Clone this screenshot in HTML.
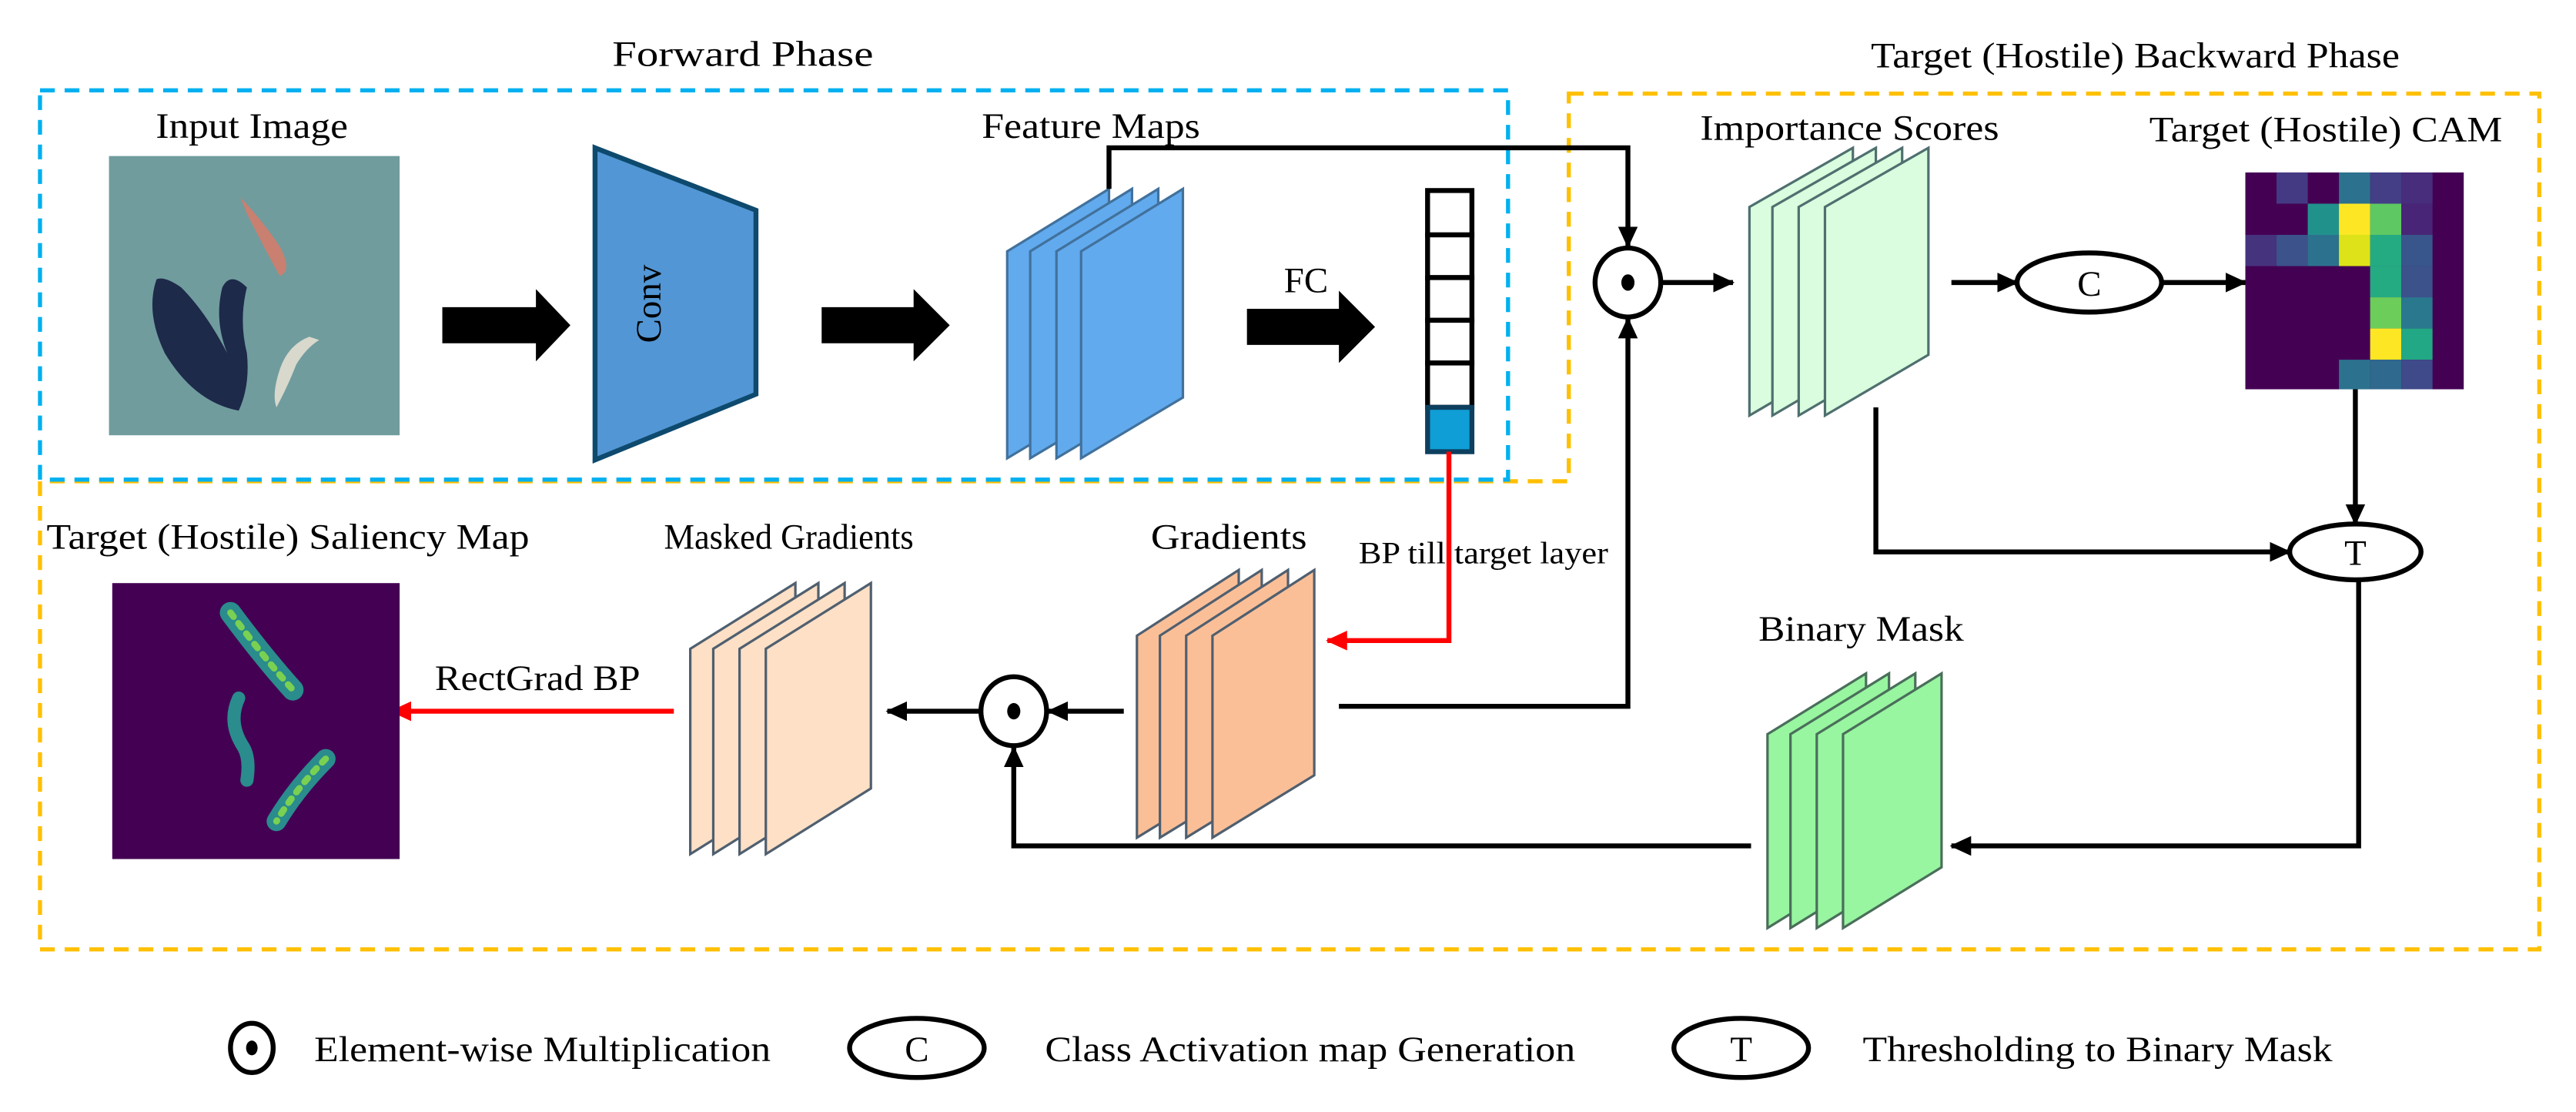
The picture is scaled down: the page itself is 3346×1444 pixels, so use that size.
<!DOCTYPE html>
<html><head><meta charset="utf-8"><style>html,body{margin:0;padding:0;background:#fff}svg{display:block}svg text{font-family:"Liberation Serif","Times New Roman",serif}</style></head>
<body>
<svg width="3346" height="1444" viewBox="0 0 1568 677" xmlns="http://www.w3.org/2000/svg" style="font-family:'Liberation Serif',serif" font-size="22">
<defs>
<marker id="ab" markerWidth="14" markerHeight="14" refX="12" refY="7" orient="auto" markerUnits="userSpaceOnUse"><path d="M0,1 L13,7 L0,13 Z" fill="#000"/></marker>
<marker id="ar" markerWidth="14" markerHeight="14" refX="12" refY="7" orient="auto" markerUnits="userSpaceOnUse"><path d="M0,1 L13,7 L0,13 Z" fill="#f00"/></marker>
</defs>
<rect width="1568" height="677" fill="#fff"/>
<text x="452" y="40" text-anchor="middle" textLength="159" lengthAdjust="spacingAndGlyphs">Forward Phase</text>
<text x="1300" y="41" text-anchor="middle" textLength="322" lengthAdjust="spacingAndGlyphs">Target (Hostile) Backward Phase</text>
<path d="M955,57 H1546 V578 H24 V293 H955 Z" fill="none" stroke="#ffc000" stroke-width="2.5" stroke-dasharray="9,6"/>
<rect x="24" y="55" width="894" height="237" fill="none" stroke="#00b0f0" stroke-width="2.5" stroke-dasharray="9,6"/>
<text x="153" y="84" text-anchor="middle" textLength="117" lengthAdjust="spacingAndGlyphs">Input Image</text>
<rect x="66" y="95" width="177" height="170" fill="#709c9e"/>
<path d="M146,120 Q160,135 170,150 Q178,165 170,168 Q160,150 150,130 Z" fill="#c98070"/>
<path d="M95,170 Q88,190 100,215 Q118,245 145,250 Q152,235 150,215 Q145,195 150,175 Q140,165 135,175 Q130,195 138,215 Q125,190 110,175 Q100,168 95,170 Z" fill="#1e2a4a"/>
<path d="M188,205 Q175,210 170,225 Q165,240 168,248 Q175,235 180,222 Q186,212 194,207 Z" fill="#d8d8cc"/>
<polygon points="362,90 460,128 460,240 362,280" fill="#5296d5" stroke="#0e4a6e" stroke-width="3"/>
<text x="0" y="0" transform="translate(402,185) rotate(-90)" text-anchor="middle">Conv</text>
<g fill="#000">
<polygon points="269,187 326,187 326,176 347,198 326,220 326,209 269,209"/>
<polygon points="500,187 556,187 556,176 578,198 556,220 556,209 500,209"/>
<polygon points="759,188 815,188 815,177 837,199 815,221 815,210 759,210"/>
</g>
<text x="795" y="178" text-anchor="middle">FC</text>
<text x="664" y="84" text-anchor="middle" textLength="133" lengthAdjust="spacingAndGlyphs">Feature Maps</text>
<g fill="#62aaee" stroke="#41719c" stroke-width="1.5">
<polygon points="613,279 613,153 675,115 675,242"/>
<polygon points="627,279 627,153 689,115 689,242"/>
<polygon points="643,279 643,153 705,115 705,242"/>
<polygon points="658,279 658,153 720,115 720,242"/>
</g>
<g stroke="#000" stroke-width="3" fill="#fff">
<rect x="869" y="116" width="27" height="27"/><rect x="869" y="143" width="27" height="26"/><rect x="869" y="169" width="27" height="26"/><rect x="869" y="195" width="27" height="26"/><rect x="869" y="221" width="27" height="27"/>
</g>
<rect x="869" y="248" width="27" height="27" fill="#0f9ed5" stroke="#0d3f5f" stroke-width="3"/>
<polyline points="675,115 675,90 991,90 991,150" fill="none" stroke="#000" stroke-width="3" marker-end="url(#ab)"/>
<ellipse cx="991" cy="172" rx="20" ry="21" fill="#fff" stroke="#000" stroke-width="3"/>
<ellipse cx="991" cy="172" rx="4" ry="5"/>
<line x1="1012" y1="172" x2="1055" y2="172" stroke="#000" stroke-width="3" marker-end="url(#ab)"/>
<text x="1126" y="85" text-anchor="middle" textLength="182" lengthAdjust="spacingAndGlyphs">Importance Scores</text>
<g fill="#d9fdde" stroke="#4f6f6f" stroke-width="1.5">
<polygon points="1065,253 1065,126 1128,90 1128,216"/>
<polygon points="1079,253 1079,126 1142,90 1142,216"/>
<polygon points="1095,253 1095,126 1158,90 1158,216"/>
<polygon points="1111,253 1111,126 1174,90 1174,216"/>
</g>
<line x1="1188" y1="172" x2="1228" y2="172" stroke="#000" stroke-width="3" marker-end="url(#ab)"/>
<ellipse cx="1272" cy="172" rx="44" ry="18" fill="#fff" stroke="#000" stroke-width="3"/>
<text x="1272" y="180" text-anchor="middle">C</text>
<line x1="1316" y1="172" x2="1367" y2="172" stroke="#000" stroke-width="3" marker-end="url(#ab)"/>
<text x="1416" y="86" text-anchor="middle" textLength="215" lengthAdjust="spacingAndGlyphs">Target (Hostile) CAM</text>
<g transform="translate(1367,105)">
<rect width="133" height="132" fill="#440154"/>
<rect x="19" y="0" width="19" height="19" fill="#443a83"/><rect x="57" y="0" width="19" height="19" fill="#2c728e"/><rect x="76" y="0" width="19" height="19" fill="#433e85"/><rect x="95" y="0" width="19" height="19" fill="#472d7b"/>
<rect x="38" y="19" width="19" height="19" fill="#21918c"/><rect x="57" y="19" width="19" height="19" fill="#fde725"/><rect x="76" y="19" width="19" height="19" fill="#5ec962"/><rect x="95" y="19" width="19" height="19" fill="#482576"/>
<rect x="0" y="38" width="19" height="19" fill="#46337e"/><rect x="19" y="38" width="19" height="19" fill="#3b528b"/><rect x="38" y="38" width="19" height="19" fill="#2c728e"/><rect x="57" y="38" width="19" height="19" fill="#dde318"/><rect x="76" y="38" width="19" height="19" fill="#25ab82"/><rect x="95" y="38" width="19" height="19" fill="#39568c"/>
<rect x="76" y="57" width="19" height="19" fill="#25ab82"/><rect x="95" y="57" width="19" height="19" fill="#3b528b"/>
<rect x="76" y="76" width="19" height="19" fill="#6ccd5a"/><rect x="95" y="76" width="19" height="19" fill="#2a788e"/>
<rect x="76" y="95" width="19" height="19" fill="#fde725"/><rect x="95" y="95" width="19" height="19" fill="#22a884"/>
<rect x="57" y="114" width="19" height="18" fill="#2c728e"/><rect x="76" y="114" width="19" height="18" fill="#30698e"/><rect x="95" y="114" width="19" height="18" fill="#3e4a89"/>
</g>
<line x1="1434" y1="237" x2="1434" y2="319" stroke="#000" stroke-width="3" marker-end="url(#ab)"/>
<polyline points="1142,248 1142,336 1394,336" fill="none" stroke="#000" stroke-width="3" marker-end="url(#ab)"/>
<ellipse cx="1434" cy="336" rx="40" ry="17" fill="#fff" stroke="#000" stroke-width="3"/>
<text x="1434" y="344" text-anchor="middle">T</text>
<text x="1133" y="390" text-anchor="middle" textLength="125" lengthAdjust="spacingAndGlyphs">Binary Mask</text>
<g fill="#98f5a0" stroke="#4a6e5a" stroke-width="1.5">
<polygon points="1076,565 1076,447 1136,410 1136,528"/>
<polygon points="1090,565 1090,447 1150,410 1150,528"/>
<polygon points="1106,565 1106,447 1166,410 1166,528"/>
<polygon points="1122,565 1122,447 1182,410 1182,528"/>
</g>
<polyline points="1436,353 1436,515 1188,515" fill="none" stroke="#000" stroke-width="3" marker-end="url(#ab)"/>
<polyline points="1066,515 617,515 617,455" fill="none" stroke="#000" stroke-width="3" marker-end="url(#ab)"/>
<text x="748" y="334" text-anchor="middle" textLength="95" lengthAdjust="spacingAndGlyphs">Gradients</text>
<g fill="#fbbf98" stroke="#4f5f6f" stroke-width="1.5">
<polygon points="692,510 692,387 754,347 754,472"/>
<polygon points="706,510 706,387 768,347 768,472"/>
<polygon points="722,510 722,387 784,347 784,472"/>
<polygon points="738,510 738,387 800,347 800,472"/>
</g>
<polyline points="882,275 882,390 808,390" fill="none" stroke="#f00" stroke-width="3" marker-end="url(#ar)"/>
<text x="903" y="343" text-anchor="middle" font-size="19" textLength="152" lengthAdjust="spacingAndGlyphs">BP till target layer</text>
<polyline points="815,430 991,430 991,194" fill="none" stroke="#000" stroke-width="3" marker-end="url(#ab)"/>
<line x1="684" y1="433" x2="638" y2="433" stroke="#000" stroke-width="3" marker-end="url(#ab)"/>
<ellipse cx="617" cy="433" rx="20" ry="21" fill="#fff" stroke="#000" stroke-width="3"/>
<ellipse cx="617" cy="433" rx="4" ry="5"/>
<line x1="597" y1="433" x2="540" y2="433" stroke="#000" stroke-width="3" marker-end="url(#ab)"/>
<text x="480" y="334" text-anchor="middle" textLength="152" lengthAdjust="spacingAndGlyphs">Masked Gradients</text>
<g fill="#fde0c6" stroke="#4f5f6f" stroke-width="1.5">
<polygon points="420,520 420,395 484,355 484,480"/>
<polygon points="434,520 434,395 498,355 498,480"/>
<polygon points="450,520 450,395 514,355 514,480"/>
<polygon points="466,520 466,395 530,355 530,480"/>
</g>
<line x1="410" y1="433" x2="238" y2="433" stroke="#f00" stroke-width="3" marker-end="url(#ar)"/>
<text x="327" y="420" text-anchor="middle" textLength="125" lengthAdjust="spacingAndGlyphs">RectGrad BP</text>
<text x="175" y="334" text-anchor="middle" textLength="294" lengthAdjust="spacingAndGlyphs">Target (Hostile) Saliency Map</text>
<rect x="68" y="355" width="175" height="168" fill="#440154"/>
<g fill="none" stroke-linecap="round">
<path d="M140,373 Q160,400 178,420" stroke="#2a8c8c" stroke-width="13"/>
<path d="M140,373 Q160,400 178,420" stroke="#7ad151" stroke-width="4" stroke-dasharray="3,5"/>
<path d="M145,425 Q138,440 148,455 Q152,462 150,475" stroke="#2a8c8c" stroke-width="8"/>
<path d="M198,462 Q180,480 168,500" stroke="#2a8c8c" stroke-width="12"/>
<path d="M198,462 Q180,480 168,500" stroke="#7ad151" stroke-width="4" stroke-dasharray="3,5"/>
</g>
<ellipse cx="153" cy="638" rx="13" ry="15" fill="#fff" stroke="#000" stroke-width="3"/>
<ellipse cx="153" cy="638" rx="3.5" ry="4.5"/>
<text x="191" y="646" textLength="278" lengthAdjust="spacingAndGlyphs">Element-wise Multiplication</text>
<ellipse cx="558" cy="638" rx="41" ry="18" fill="#fff" stroke="#000" stroke-width="3"/>
<text x="558" y="646" text-anchor="middle">C</text>
<text x="636" y="646" textLength="323" lengthAdjust="spacingAndGlyphs">Class Activation map Generation</text>
<ellipse cx="1060" cy="638" rx="41" ry="18" fill="#fff" stroke="#000" stroke-width="3"/>
<text x="1060" y="646" text-anchor="middle">T</text>
<text x="1134" y="646" textLength="286" lengthAdjust="spacingAndGlyphs">Thresholding to Binary Mask</text>
</svg>
</body></html>
